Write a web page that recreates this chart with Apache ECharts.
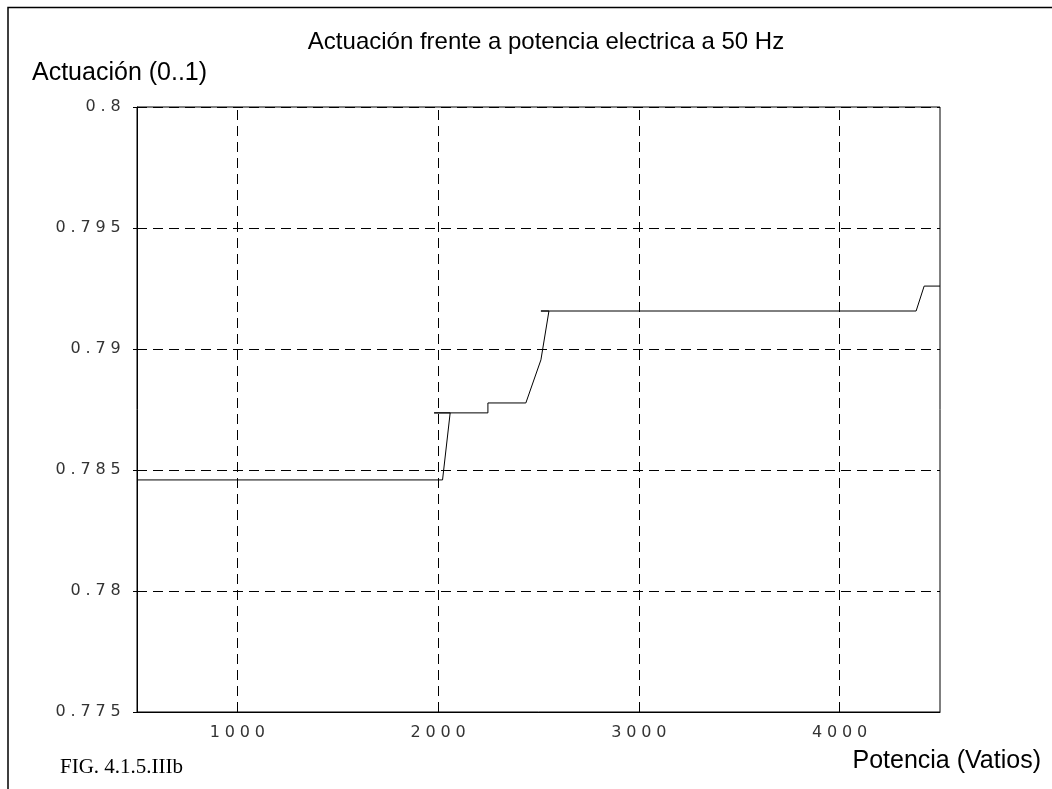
<!DOCTYPE html>
<html>
<head>
<meta charset="utf-8">
<script src="https://cdn.jsdelivr.net/npm/echarts@6/dist/echarts.min.js"></script>
<style>html,body{margin:0;padding:0;background:#fff}#c{width:1052px;height:789px}</style>
</head>
<body>
<div id="c"></div>
<script>
// Data (Potencia in W, Actuación 0..1)
const potencia = [500, 2022, 2060, 1980, 2248, 2248, 2437, 2512, 2552, 2512, 4381, 4421, 4500];
const actuacion = [0.78459, 0.78459, 0.78736, 0.78736, 0.78736, 0.78777, 0.78777, 0.78955, 0.79157, 0.79157, 0.79157, 0.7926, 0.7926];
const xGridValues = [1000, 2000, 3000, 4000];
const titleText = 'Actuación frente a potencia electrica a 50 Hz';
const yName = 'Actuación (0..1)';
const xName = 'Potencia (Vatios)';
const figText = 'FIG. 4.1.5.IIIb';

const seriesData = potencia.map((x, i) => [x, actuacion[i]]);
const chart = echarts.init(document.getElementById('c'));

function spaced(s) {
  return s.split('').map(ch => (ch === '.' ? '{p|.}' : '{d|' + ch + '}')).join('');
}
const cellStyle = {fontFamily: 'DejaVu Sans', fontSize: 16, color: '#333'};
const rich = {
  d: Object.assign({width: 15, align: 'center'}, cellStyle),
  p: Object.assign({width: 10, align: 'center'}, cellStyle)
};

chart.setOption({
  animation: false,
  backgroundColor: '#fff',
  grid: {left: 137, right: 112, top: 107, bottom: 77, show: true, borderColor: '#000', borderWidth: 1},
  xAxis: {
    type: 'value', min: 500, max: 4500, interval: 500,
    axisLine: {show: true, lineStyle: {color: '#000', width: 1}},
    axisTick: {show: false},
    splitLine: {show: false},
    axisLabel: {margin: 13, rich: rich, formatter: v => (v % 1000 === 0 ? spaced(String(v)) : '')}
  },
  yAxis: {
    type: 'value', min: 0.775, max: 0.8, interval: 0.005,
    axisLine: {show: true, lineStyle: {color: '#000', width: 1}},
    axisTick: {show: true, length: 4, inside: false, lineStyle: {color: '#000'}},
    splitLine: {show: true, lineStyle: {color: '#000', type: [10, 6], width: 1}},
    axisLabel: {margin: 14, rich: rich, formatter: v => spaced(v.toFixed(3).replace(/0+$/, '').replace(/\.$/, ''))}
  },
  series: [{
    type: 'line',
    data: seriesData,
    showSymbol: false,
    lineStyle: {color: '#000', width: 1},
    markLine: {
      silent: true, symbol: 'none', label: {show: false},
      lineStyle: {color: '#000', type: [10, 6], width: 1},
      data: xGridValues.map(v => ({xAxis: v}))
    }
  }],
  graphic: [
    {type: 'polyline', shape: {points: [[8, 789], [8, 7.5], [1052, 7.5]]}, style: {stroke: '#000', lineWidth: 1.5, fill: null}},
    {type: 'text', x: 546, y: 42, style: {text: titleText, font: '24px "Liberation Sans", Arial, sans-serif', fill: '#000', align: 'center', verticalAlign: 'middle'}},
    {type: 'text', x: 32, y: 73, style: {text: yName, font: '25px "Liberation Sans", Arial, sans-serif', fill: '#000', align: 'left', verticalAlign: 'middle'}},
    {type: 'text', x: 1041, y: 761, style: {text: xName, font: '25px "Liberation Sans", Arial, sans-serif', fill: '#000', align: 'right', verticalAlign: 'middle'}},
    {type: 'text', x: 60, y: 767, style: {text: figText, font: '21px "Liberation Serif", "Times New Roman", serif', fill: '#000', align: 'left', verticalAlign: 'middle'}}
  ]
});
</script>
</body>
</html>
